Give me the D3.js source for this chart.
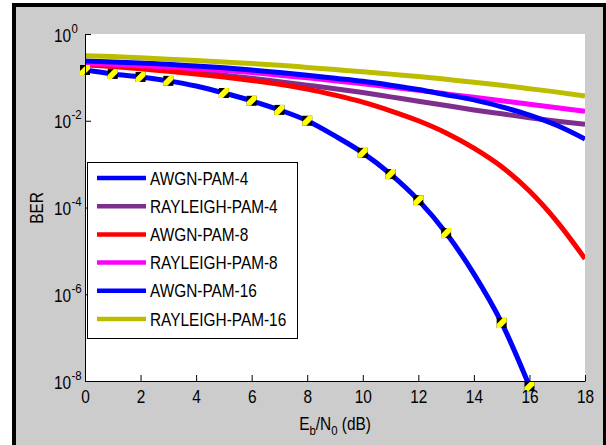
<!DOCTYPE html>
<html>
<head>
<meta charset="utf-8">
<script src="https://cdn.jsdelivr.net/npm/d3@7"></script>
<style>
  body { margin: 0; background: #fff; }
  svg { display: block; }
  svg text { font-family: "Liberation Sans", Arial, sans-serif; fill: #000; }
</style>
</head>
<body>
<svg id="chart"></svg>
<script>
(function () {
  var width = 606; var height = 445

  // Eb/N0 in dB
  var snr = [0, 1, 2, 3, 4, 5, 6, 7, 8, 9, 10, 11, 12, 13, 14, 15, 16, 17, 18]

  // BER values, stored as log10(BER)
  var awgn4 = [-0.83, -0.92, -0.99, -1.08, -1.20, -1.36, -1.54, -1.75, -2.00, -2.35, -2.74, -3.23, -3.83, -4.59, -5.53, -6.66, -8.12, null, null]
  var rayleigh4 = [-0.70, -0.74, -0.78, -0.83, -0.88, -0.95, -1.02, -1.10, -1.18, -1.26, -1.35, -1.45, -1.55, -1.65, -1.75, -1.84, -1.93, -2.01, -2.08]
  var awgn8 = [-0.71, -0.75, -0.80, -0.86, -0.92, -0.99, -1.07, -1.16, -1.27, -1.41, -1.57, -1.77, -2.00, -2.28, -2.63, -3.06, -3.62, -4.33, -5.18]
  var rayleigh8 = [-0.68, -0.70, -0.73, -0.76, -0.80, -0.84, -0.89, -0.95, -1.01, -1.08, -1.15, -1.22, -1.30, -1.38, -1.46, -1.54, -1.62, -1.70, -1.78]
  var awgn16 = [-0.62, -0.645, -0.67, -0.70, -0.74, -0.78, -0.83, -0.89, -0.95, -1.02, -1.09, -1.18, -1.28, -1.40, -1.52, -1.68, -1.87, -2.11, -2.42]
  var rayleigh16 = [-0.50, -0.52, -0.55, -0.58, -0.61, -0.645, -0.68, -0.72, -0.77, -0.82, -0.87, -0.925, -0.98, -1.045, -1.11, -1.18, -1.26, -1.34, -1.43]

  // simulated points drawn as markers on the AWGN-PAM-4 curve
  var markerSnr = [0, 1, 2, 3, 5, 6, 7, 8, 10, 11, 12, 13, 15, 16]

  var seriesNames = ['AWGN-PAM-4', 'RAYLEIGH-PAM-4', 'AWGN-PAM-8', 'RAYLEIGH-PAM-8', 'AWGN-PAM-16', 'RAYLEIGH-PAM-16']
  var seriesValues = [awgn4, rayleigh4, awgn8, rayleigh8, awgn16, rayleigh16]
  var seriesColors = ['#0000ff', '#7e2f8e', '#ff0000', '#ff00ff', '#0000ff', '#bdbd00']

  var xTicks = [0, 2, 4, 6, 8, 10, 12, 14, 16, 18]
  var yTicks = [1, 1e-2, 1e-4, 1e-6, 1e-8]
  var yTickExp = ['0', '-2', '-4', '-6', '-8']

  var plot = { left: 85, right: 585, top: 34, bottom: 381 }
  var squeeze = 'scale(0.88,1)'

  var svg = d3.select('#chart')
    .attr('width', width)
    .attr('height', height)

  // frame
  svg.append('rect').attr('x', 12).attr('y', 3).attr('width', 600).attr('height', 460).attr('fill', '#000')
  svg.append('rect').attr('x', 16).attr('y', 7).attr('width', 587).attr('height', 460).attr('fill', '#cccccc')
  svg.append('rect')
    .attr('x', plot.left).attr('y', plot.top)
    .attr('width', plot.right - plot.left).attr('height', plot.bottom - plot.top)
    .attr('fill', '#fff')

  svg.append('clipPath').attr('id', 'plotclip')
    .append('rect')
    .attr('x', plot.left).attr('y', plot.top)
    .attr('width', plot.right - plot.left).attr('height', plot.bottom - plot.top)

  var xScale = d3.scaleLinear()
    .domain([0, 18])
    .range([plot.left, plot.right])

  var yScale = d3.scaleLog()
    .domain([1e-8, 1])
    .range([plot.bottom, plot.top])

  var line = d3.line()
    .defined(d => d[1] !== null)
    .x(d => xScale(d[0]))
    .y(d => yScale(Math.pow(10, d[1])))
    .curve(d3.curveMonotoneX)

  var lines = svg.append('g').attr('clip-path', 'url(#plotclip)')
  seriesValues.forEach((vals, i) => {
    lines.append('path')
      .datum(snr.map((s, j) => [s, vals[j]]))
      .attr('d', line)
      .attr('fill', 'none')
      .attr('stroke', seriesColors[i])
      .attr('stroke-width', 5)
      .attr('stroke-linejoin', 'round')
  })

  // markers
  var mk = svg.append('g')
  markerSnr.forEach(s => {
    var cx = xScale(s)
    var cy = yScale(Math.pow(10, awgn4[snr.indexOf(s)]))
    var h = 5
    mk.append('rect')
      .attr('x', cx - h).attr('y', cy - h)
      .attr('width', 2 * h).attr('height', 2 * h)
      .attr('fill', '#000')
    mk.append('polygon')
      .attr('points', [[cx + 1, cy - h], [cx + h, cy - h], [cx + h, cy - 1], [cx - 1, cy + h], [cx - h, cy + h], [cx - h, cy + 1]].join(' '))
      .attr('fill', '#ffff00')
  })

  // axes
  var xAxis = svg.append('g')
    .attr('transform', 'translate(0,' + plot.bottom + ')')
    .call(d3.axisBottom(xScale).tickValues(xTicks).tickSizeInner(-6).tickSizeOuter(0).tickPadding(22))
  xAxis.selectAll('text')
    .attr('dy', null)
    .attr('font-size', 17.5)
    .attr('transform', squeeze)
  xAxis.select('.domain').attr('stroke', '#000')

  var yAxis = svg.append('g')
    .attr('transform', 'translate(' + plot.left + ',0)')
    .call(d3.axisLeft(yScale).tickValues(yTicks).tickSizeInner(-6).tickSizeOuter(0).tickFormat(''))
  yAxis.select('.domain').attr('stroke', '#000')

  yTicks.forEach((t, i) => {
    var g = svg.append('g').attr('transform', 'translate(71,' + (yScale(t) + 7.5) + ')')
    g.append('text')
      .attr('text-anchor', 'end')
      .attr('font-size', 17.5)
      .attr('transform', squeeze)
      .text('10')
    g.append('text')
      .attr('x', 0.5)
      .attr('y', -9)
      .attr('font-size', 13)
      .attr('transform', squeeze)
      .text(yTickExp[i])
  })

  // axis titles
  var xt = svg.append('text')
    .attr('transform', 'translate(335,430) ' + squeeze)
    .attr('text-anchor', 'middle')
    .attr('font-size', 17.5)
  xt.append('tspan').text('E')
  xt.append('tspan').attr('font-size', 13).attr('dy', 5).text('b')
  xt.append('tspan').attr('dy', -5).text('/N')
  xt.append('tspan').attr('font-size', 13).attr('dy', 5).text('0')
  xt.append('tspan').attr('dy', -5).text(' (dB)')

  svg.append('text')
    .attr('transform', 'translate(43,208) rotate(-90) ' + squeeze)
    .attr('text-anchor', 'middle')
    .attr('font-size', 17.5)
    .text('BER')

  // legend
  var legend = svg.append('g')
  legend.append('rect')
    .attr('x', 87.5).attr('y', 162.5)
    .attr('width', 210).attr('height', 176)
    .attr('fill', '#fff')
    .attr('stroke', '#000')
    .attr('stroke-width', 1)

  seriesNames.forEach((name, i) => {
    var cy = 178 + i * 28.2
    legend.append('line')
      .attr('x1', 97).attr('x2', 146)
      .attr('y1', cy).attr('y2', cy)
      .attr('stroke', seriesColors[i])
      .attr('stroke-width', 4.5)
    legend.append('text')
      .attr('transform', 'translate(150,' + (cy + 6.5) + ') ' + squeeze)
      .attr('font-size', 17.5)
      .text(name)
  })
})()
</script>
</body>
</html>
